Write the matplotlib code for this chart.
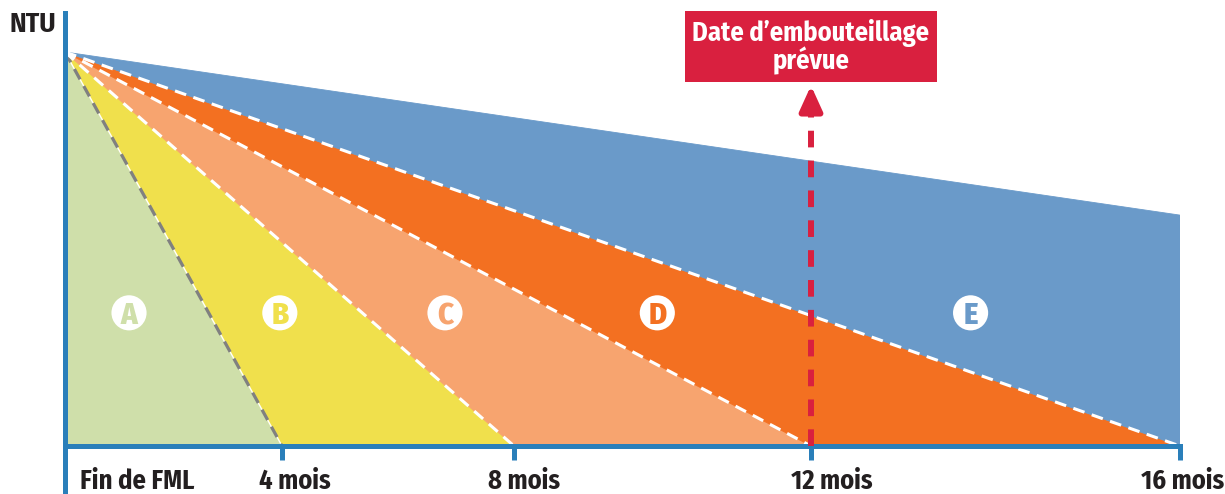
import numpy as np
import matplotlib
matplotlib.use('Agg')
import matplotlib.pyplot as plt
from matplotlib.transforms import ScaledTranslation

plt.rcParams['lines.scale_dashes'] = False
plt.rcParams['font.family'] = ['Fira Sans Condensed', 'DejaVu Sans']
plt.rcParams['font.weight'] = 'bold'

# ---- data ----
months = [0, 4, 8, 12, 16]
tick_labels = ['Fin de FML', '4 mois', '8 mois', '12 mois', '16 mois']
zones = ['A', 'B', 'C', 'D', 'E']
zone_end_month = [4, 8, 12, 16]          # month where each boundary line reaches 0 NTU
ntu_start = 100                          # NTU at end of FML (relative)
ntu_E_end = 58.6                         # NTU of zone E top at 16 months
label_month = [1.18, 3.96, 6.81, 9.93, 13.73]
label_ntu = 33.8
bottling_month = 12
bottling_arrow_ntu = 91.5
bottling_text = 'Date d\u2019embouteillage\nprévue'

# axis scale: months are not evenly spaced on the drawing
scale_pos = [0, 217, 449, 746, 1115]

colors = ['#CFDFAA', '#F0E04C', '#F7A46F', '#F37021', '#6A9AC9']
axis_blue = '#2A7FBA'
red = '#D9203F'
dark = '#231F20'

def fwd(x):
    return np.interp(np.asarray(x, float), months, scale_pos)

def inv(y):
    return np.interp(np.asarray(y, float), scale_pos, months)

fig = plt.figure(figsize=(12.25, 4.94), dpi=100)
ax = fig.add_axes([65 / 1225, 2 / 494, (1180 - 65) / 1225, 479 / 494])
ax.set_xscale('function', functions=(fwd, inv))
ax.set_xlim(0, 16)
ax.set_ylim(-11.675, 109.9)

# zones
bounds = [0] + zone_end_month
for i, z in enumerate(zones):
    if z != 'E':
        xs = [0, bounds[i], bounds[i + 1]]
        ys = [ntu_start, 0, 0]
    else:
        xs = [0, zone_end_month[-1], zone_end_month[-1]]
        ys = [ntu_start, 0, ntu_E_end]
    ax.fill(xs, ys, color=colors[i], lw=0.6, zorder=1)

# boundary lines
for j, m in enumerate(zone_end_month):
    if j == 0:
        ax.plot([0, m], [ntu_start, 0], color='white', lw=1.0, zorder=2)
        ax.plot([0, m], [ntu_start, 0], color='#808080', lw=2.3,
                linestyle=(0, (8.5, 5.5)), zorder=2.1)
    else:
        ax.plot([0, m], [ntu_start, 0], color='white', lw=2.2,
                linestyle=(0, (8.5, 5.5)), zorder=2.1)

# bottling date marker
ax.plot([bottling_month, bottling_month], [0, bottling_arrow_ntu - 4], color=red,
        lw=4.3, linestyle=(0, (12, 9.5)), zorder=3, dash_capstyle='butt')
ax.annotate('', xy=(bottling_month, bottling_arrow_ntu),
            xytext=(bottling_month, bottling_arrow_ntu - 6),
            arrowprops=dict(arrowstyle='-|>,head_length=0.75,head_width=0.34',
                            mutation_scale=20, color=red, lw=4.3,
                            shrinkA=0, shrinkB=0), zorder=3)
ax.text(bottling_month, 101.3, bottling_text, ha='center', va='center',
        color='white', fontsize=19, linespacing=1.0, clip_on=False, zorder=4,
        bbox=dict(boxstyle='square,pad=0.28', fc=red, ec='none'))

# zone letters
ax.scatter(label_month, [label_ntu] * len(zones), s=640, c='white',
           edgecolors='none', zorder=5)
for m, z, c in zip(label_month, zones, colors):
    ax.text(m, label_ntu, z, ha='center', va='center_baseline', color=c,
            fontsize=22, fontweight='heavy', zorder=6)

# axes styling
for s in ['top', 'right']:
    ax.spines[s].set_visible(False)
ax.spines['bottom'].set_position(('data', 0))
ax.spines['bottom'].set_color(axis_blue)
ax.spines['bottom'].set_linewidth(3.6)
ax.spines['left'].set_color(axis_blue)
ax.spines['left'].set_linewidth(3.6)
ax.set_yticks([])
ax.set_xticks(months)
ax.set_xticklabels(tick_labels)
ax.tick_params(axis='x', direction='out', length=10, width=3.6, color=axis_blue,
               pad=6, labelsize=19, labelcolor=dark)
offsets = [72.5, 13, 10, 21, 3]
for lab, dx in zip(ax.get_xticklabels(), offsets):
    lab.set_transform(lab.get_transform() + ScaledTranslation(dx / 100, 0, fig.dpi_scale_trans))

fig.text(33 / 1225, 1 - 24.5 / 494, 'NTU', ha='center', va='center',
         fontsize=20, color=dark)

fig.savefig('out.png', dpi=100)
